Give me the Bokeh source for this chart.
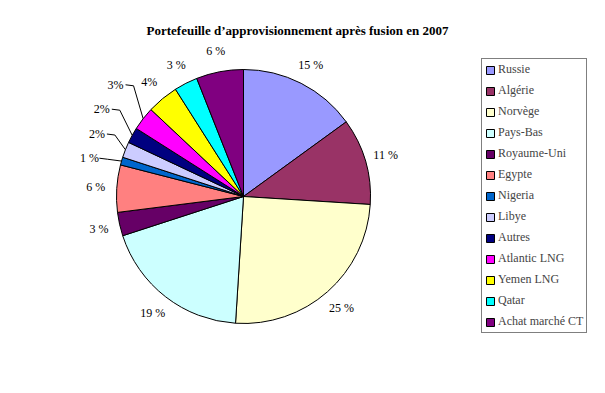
import math
from bokeh.plotting import figure
from bokeh.models import Range1d, ColumnDataSource, Legend, LegendItem, Label
from bokeh.core.properties import value
from bokeh.embed import file_html
from bokeh.resources import INLINE

# ---- data ----
categories = ["Russie", "Algérie", "Norvège", "Pays-Bas", "Royaume-Uni", "Egypte",
              "Nigeria", "Libye", "Autres", "Atlantic LNG", "Yemen LNG", "Qatar",
              "Achat marché CT"]
shares = [15, 11, 25, 19, 3, 6, 1, 2, 2, 3, 4, 3, 6]
label_texts = ["15 %", "11 %", "25 %", "19 %", "3 %", "6 %", "1 %", "2%", "2%",
               "3%", "4%", "3 %", "6 %"]
colors = ["#9999FF", "#993366", "#FFFFCC", "#CCFFFF", "#660066", "#FF8080",
          "#0066CC", "#CCCCFF", "#000080", "#FF00FF", "#FFFF00", "#00FFFF",
          "#800080"]
title_text = "Portefeuille d\u2019approvisionnement après fusion en 2007"

# ---- layout (styling) ----
W, H = 589, 377
CX, CY, R = 243, 181, 127       # pie centre / radius in plot pixels (y up)
LABEL_R = 148
# labels that are moved out and joined by a leader line: index -> (dx, dy) shift
leader_shift = {6: (-12, -3), 7: (-9, 8), 8: (-12, 16), 9: (-11, 21)}
FONT = "Liberation Serif"

p = figure(width=W, height=H, output_backend="svg", toolbar_location=None,
           x_range=Range1d(0, W), y_range=Range1d(0, H),
           x_axis_type=None, y_axis_type=None, min_border=0,
           outline_line_color=None)
p.xgrid.visible = False
p.ygrid.visible = False

total = float(sum(shares))
starts, ends, lx, ly = [], [], [], []
leader_xs, leader_ys = [], []
cum = 0.0
for i, s in enumerate(shares):
    a0 = cum / total
    cum += s
    a1 = cum / total
    # counter-clockwise wedge from end to start (clockwise order from 12 o'clock)
    starts.append(math.pi / 2 - 2 * math.pi * a1)
    ends.append(math.pi / 2 - 2 * math.pi * a0)
    mid = 2 * math.pi * (a0 + a1) / 2
    x = CX + LABEL_R * math.sin(mid)
    y = CY + LABEL_R * math.cos(mid)
    if i in leader_shift:
        dx, dy = leader_shift[i]
        x += dx
        y += dy
        ex = CX + R * math.sin(mid)
        ey = CY + R * math.cos(mid)
        leader_xs.append([x + 10, x + 18, ex])
        leader_ys.append([y, y - 1, ey])
    lx.append(x)
    ly.append(y)

src = ColumnDataSource(dict(name=categories, share=shares, start=starts, end=ends,
                            color=colors, x=[CX] * len(shares), y=[CY] * len(shares)))
r = p.wedge(x="x", y="y", radius=R, start_angle="start", end_angle="end",
            direction="anticlock", fill_color="color", line_color="black",
            line_width=1, source=src)

p.multi_line(xs=leader_xs, ys=leader_ys, line_color="black", line_width=1)

lsrc = ColumnDataSource(dict(x=lx, y=ly, t=label_texts))
p.text(x="x", y="y", text="t", source=lsrc, text_align="center",
       text_baseline="middle", text_font=value(FONT), text_font_size="12px",
       text_color="black")

p.add_layout(Label(x=297, y=H - 30, text=title_text, text_align="center",
                   text_baseline="middle", text_font=FONT, text_font_size="13px",
                   text_font_style="bold", text_color="black"))

items = [LegendItem(label=c, renderers=[r], index=i) for i, c in enumerate(categories)]
legend = Legend(items=items, location=(481, 44), orientation="vertical",
                border_line_color="black", border_line_width=1,
                background_fill_color="white", background_fill_alpha=1,
                label_text_font=FONT, label_text_font_size="12px",
                glyph_width=10, glyph_height=10, label_height=12,
                label_standoff=3, spacing=6, padding=3, margin=0)
p.add_layout(legend)

open("out.html", "w").write(file_html(p, INLINE))
